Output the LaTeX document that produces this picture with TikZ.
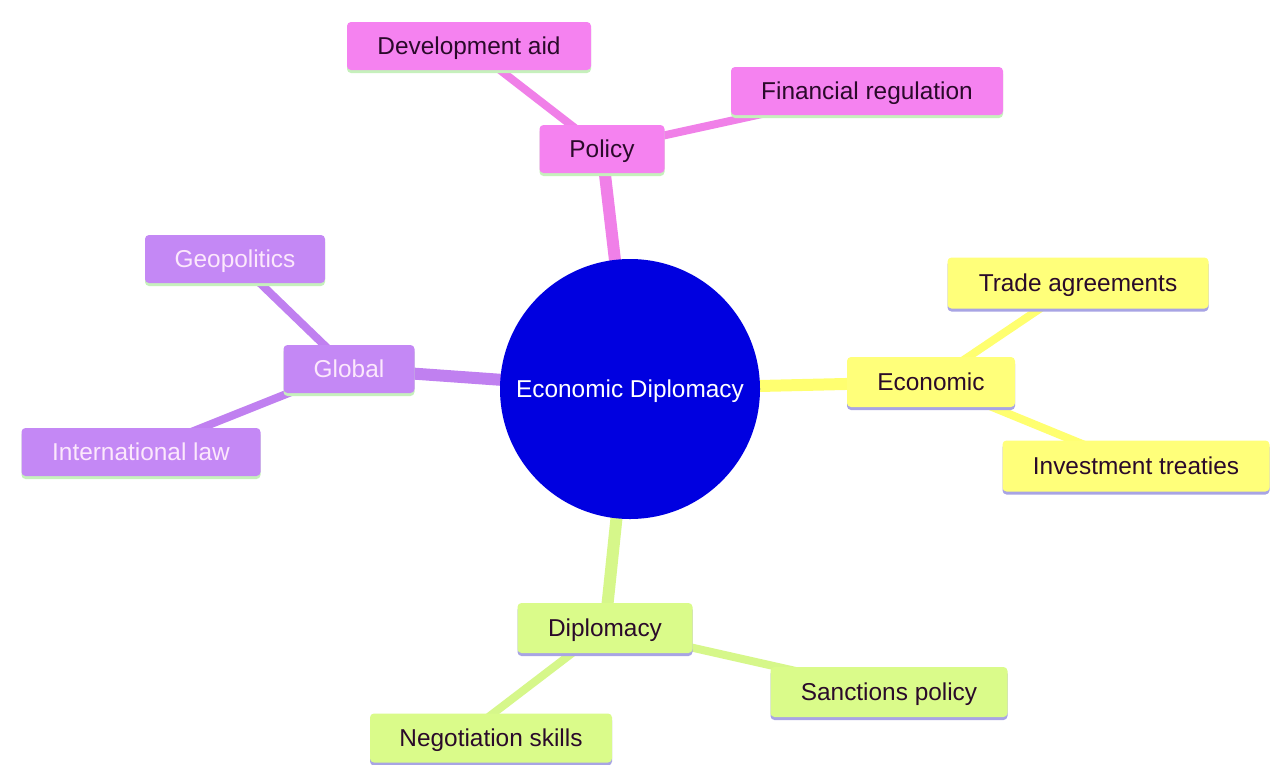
\documentclass[tikz,border=0pt]{standalone}
\usepackage{fontspec}
\setmainfont{Liberation Sans}
\usetikzlibrary{shadows}
\pgfdeclarelayer{bg}
\pgfsetlayers{bg,main}
\definecolor{pinkc}{HTML}{F582F0}
\definecolor{pinkl}{HTML}{F080E8}
\definecolor{purpc}{HTML}{C488F5}
\definecolor{purpl}{HTML}{C080F0}
\definecolor{yelc}{HTML}{FFFF7A}
\definecolor{yell}{HTML}{FFFF70}
\definecolor{grnc}{HTML}{DAFB8A}
\definecolor{grnl}{HTML}{D6F78A}
\definecolor{bluec}{HTML}{0000E0}
\definecolor{shgreen}{HTML}{C6F0BC}
\definecolor{shlav}{HTML}{A8A4E4}
\definecolor{darktxt}{HTML}{2A0A2A}
\definecolor{lighttxt}{HTML}{FCE8FC}
\tikzset{
  box/.style={rectangle, rounded corners=4pt, inner sep=0pt, text height=17.8pt, text depth=1pt, font=\fontsize{24.4}{28}\selectfont},
  pinkbox/.style={box, fill=pinkc, text=darktxt, drop shadow={shadow xshift=0pt, shadow yshift=-3pt, fill=shgreen, opacity=1}},
  purpbox/.style={box, fill=purpc, text=lighttxt, drop shadow={shadow xshift=0pt, shadow yshift=-3pt, fill=shgreen, opacity=1}},
  yelbox/.style={box, fill=yelc, text=darktxt, drop shadow={shadow xshift=0pt, shadow yshift=-3pt, fill=shlav, opacity=1}},
  grnbox/.style={box, fill=grnc, text=darktxt, drop shadow={shadow xshift=0pt, shadow yshift=-3pt, fill=shlav, opacity=1}},
  mainline/.style={line width=12pt},
  subline/.style={line width=8pt},
}
\begin{document}
\begin{tikzpicture}[x=1pt,y=-1pt]
\useasboundingbox (0,0) rectangle (1274,764);
% nodes
\node[circle, fill=bluec, minimum size=260pt, inner sep=0pt, text=white, text height=17.8pt, text depth=1pt, font=\fontsize{24.4}{28}\selectfont] (c) at (630,389) {Economic Diplomacy};
\node[pinkbox, minimum width=244pt, minimum height=48pt] (dev) at (469,46) {Development aid};
\node[pinkbox, minimum width=125pt, minimum height=48pt] (pol) at (602,149) {Policy};
\node[pinkbox, minimum width=272pt, minimum height=48pt] (fin) at (867,91) {Financial regulation};
\node[yelbox, minimum width=168pt, minimum height=50pt] (eco) at (931,382) {Economic};
\node[yelbox, minimum width=261pt, minimum height=51pt] (tra) at (1078,283) {Trade agreements};
\node[yelbox, minimum width=267pt, minimum height=51pt] (inv) at (1136,466) {Investment treaties};
\node[purpbox, minimum width=131pt, minimum height=48pt] (glo) at (349,369) {Global};
\node[purpbox, minimum width=180pt, minimum height=48pt] (geo) at (235,259) {Geopolitics};
\node[purpbox, minimum width=239pt, minimum height=48pt] (int) at (141,452) {International law};
\node[grnbox, minimum width=175pt, minimum height=50pt] (dip) at (605,628) {Diplomacy};
\node[grnbox, minimum width=237pt, minimum height=50pt] (san) at (889,692) {Sanctions policy};
\node[grnbox, minimum width=242pt, minimum height=49pt] (neg) at (491,738) {Negotiation skills};
% connectors behind
\begin{pgfonlayer}{bg}
\fill[white] (0,0) rectangle (1274,764);
\draw[mainline, pinkl] (c.center) -- (pol.center);
\draw[mainline, yell] (c.center) -- (eco.center);
\draw[mainline, purpl] (c.center) -- (glo.center);
\draw[mainline, grnl] (c.center) -- (dip.center);
\draw[subline, pinkl] (pol.center) -- (dev.center);
\draw[subline, pinkl] (pol.center) -- (fin.center);
\draw[subline, yell] (eco.center) -- (tra.center);
\draw[subline, yell] (eco.center) -- (inv.center);
\draw[subline, purpl] (glo.center) -- (geo.center);
\draw[subline, purpl] (glo.center) -- (int.center);
\draw[subline, grnl] (dip.center) -- (san.center);
\draw[subline, grnl] (dip.center) -- ([xshift=-30pt]neg.center);
\end{pgfonlayer}
\end{tikzpicture}
\end{document}
